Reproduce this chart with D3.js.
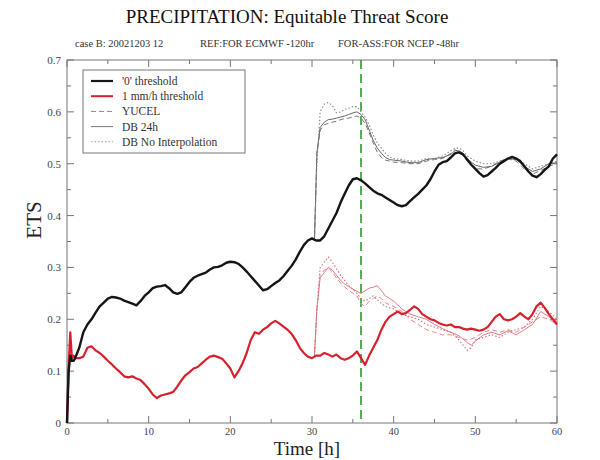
<!DOCTYPE html>
<html>
<head>
<meta charset="utf-8">
<script src="https://cdn.jsdelivr.net/npm/d3@7"></script>
<style>
  body { margin: 0; background: #fff; }
  text { font-family: "Liberation Serif", "DejaVu Serif", serif; }
</style>
</head>
<body>
<svg width="600" height="460"></svg>
<script>
// time grid of the two main curves (hours)
const tMain = [0, 0.2, 0.4, 0.6, 0.8, 1, 1.5, 2, 2.5, 3, 3.5, 4, 4.5, 5, 5.5, 6, 6.5, 7, 7.5, 8, 8.5, 9, 9.5,
  10, 10.5, 11, 11.5, 12, 12.5, 13, 13.5, 14, 14.5, 15, 15.5, 16, 16.5, 17, 17.5, 18, 18.5, 19, 19.5,
  20, 20.5, 21, 21.5, 22, 22.5, 23, 23.5, 24, 24.5, 25, 25.5, 26, 26.5, 27, 27.5, 28, 28.5, 29, 29.5,
  30, 30.5, 31, 31.5, 32, 32.5, 33, 33.5, 34, 34.5, 35, 35.5, 36, 36.5, 37, 37.5, 38, 38.5, 39, 39.5,
  40, 40.5, 41, 41.5, 42, 42.5, 43, 43.5, 44, 44.5, 45, 45.5, 46, 46.5, 47, 47.5, 48, 48.5, 49, 49.5,
  50, 50.5, 51, 51.5, 52, 52.5, 53, 53.5, 54, 54.5, 55, 55.5, 56, 56.5, 57, 57.5, 58, 58.5, 59, 59.5, 60];

// '0' threshold
const zeroThr = [0, 0.1, 0.13, 0.12, 0.12, 0.125, 0.145, 0.175, 0.19, 0.2, 0.213, 0.225, 0.232, 0.24, 0.243, 0.242, 0.24, 0.236, 0.233, 0.23, 0.227, 0.235, 0.245,
  0.252, 0.26, 0.263, 0.264, 0.266, 0.26, 0.252, 0.249, 0.252, 0.262, 0.272, 0.28, 0.284, 0.287, 0.29, 0.296, 0.3, 0.301, 0.304, 0.309,
  0.311, 0.31, 0.307, 0.3, 0.292, 0.283, 0.274, 0.265, 0.256, 0.258, 0.264, 0.27, 0.275, 0.283, 0.293, 0.303, 0.315, 0.33, 0.343, 0.352,
  0.356, 0.352, 0.352, 0.36, 0.375, 0.39, 0.405, 0.425, 0.442, 0.458, 0.47, 0.472, 0.468, 0.462, 0.455, 0.448, 0.443, 0.44, 0.435, 0.43,
  0.425, 0.42, 0.418, 0.42, 0.428, 0.435, 0.442, 0.45, 0.458, 0.47, 0.485, 0.498, 0.503, 0.505, 0.512, 0.52, 0.522, 0.518, 0.508, 0.498,
  0.49, 0.482, 0.475, 0.478, 0.485, 0.492, 0.5, 0.505, 0.51, 0.513, 0.51, 0.505, 0.495, 0.485, 0.477, 0.474, 0.48, 0.488, 0.495, 0.51, 0.518];

// 1 mm/h threshold
const oneMm = [0, 0.11, 0.175, 0.125, 0.13, 0.125, 0.125, 0.128, 0.145, 0.148, 0.14, 0.135, 0.128, 0.12, 0.113, 0.105, 0.098, 0.09, 0.088, 0.09, 0.086, 0.083, 0.075,
  0.066, 0.055, 0.048, 0.053, 0.055, 0.057, 0.06, 0.07, 0.082, 0.092, 0.098, 0.105, 0.108, 0.115, 0.122, 0.128, 0.13, 0.127, 0.124, 0.115,
  0.105, 0.088, 0.1, 0.115, 0.135, 0.16, 0.175, 0.172, 0.18, 0.185, 0.192, 0.197, 0.192, 0.186, 0.18, 0.172, 0.16, 0.145, 0.135, 0.128,
  0.125, 0.13, 0.13, 0.135, 0.132, 0.128, 0.132, 0.125, 0.122, 0.125, 0.13, 0.138, 0.125, 0.112, 0.13, 0.145, 0.16, 0.18, 0.195, 0.205,
  0.21, 0.215, 0.21, 0.212, 0.218, 0.225, 0.22, 0.21, 0.205, 0.2, 0.198, 0.193, 0.19, 0.188, 0.19, 0.185, 0.185, 0.182, 0.18, 0.182,
  0.18, 0.178, 0.18, 0.185, 0.195, 0.205, 0.21, 0.2, 0.198, 0.2, 0.205, 0.212, 0.205, 0.2, 0.21, 0.225, 0.232, 0.222, 0.21, 0.2, 0.19];

// time grid of the three method curves (they follow the main curves before 30 h)
const tVar = [30, 30.3, 30.6, 31, 31.5, 32, 32.5, 33, 33.5, 34, 34.5, 35, 35.5, 36, 36.5, 37, 37.5, 38, 38.5, 39, 39.5,
  40, 41, 42, 43, 44, 45, 46, 47, 47.5, 48, 48.5, 49, 49.5, 50, 51, 52, 53, 54, 55, 56, 57, 58, 59, 60];

const yucelZero = [0.356, 0.352, 0.52, 0.565, 0.575, 0.578, 0.58, 0.582, 0.585, 0.587, 0.588, 0.59, 0.592, 0.588, 0.578, 0.56, 0.54, 0.522, 0.512, 0.507, 0.505,
  0.503, 0.502, 0.5, 0.5, 0.505, 0.508, 0.51, 0.52, 0.527, 0.523, 0.515, 0.505, 0.497, 0.49, 0.49, 0.495, 0.505, 0.51, 0.505, 0.49, 0.48, 0.487, 0.495, 0.5];
const db24Zero = [0.356, 0.352, 0.52, 0.57, 0.58, 0.585, 0.586, 0.588, 0.59, 0.592, 0.595, 0.598, 0.6, 0.595, 0.585, 0.565, 0.545, 0.53, 0.52, 0.512, 0.508,
  0.507, 0.505, 0.502, 0.502, 0.508, 0.51, 0.512, 0.518, 0.525, 0.525, 0.52, 0.51, 0.503, 0.497, 0.493, 0.495, 0.503, 0.51, 0.508, 0.495, 0.485, 0.49, 0.5, 0.502];
const dbNoZero = [0.356, 0.352, 0.5, 0.6, 0.615, 0.618, 0.612, 0.598, 0.6, 0.605, 0.607, 0.61, 0.61, 0.6, 0.59, 0.575, 0.555, 0.54, 0.53, 0.52, 0.513,
  0.51, 0.508, 0.505, 0.505, 0.51, 0.51, 0.515, 0.525, 0.53, 0.53, 0.525, 0.515, 0.51, 0.505, 0.5, 0.5, 0.505, 0.51, 0.51, 0.5, 0.49, 0.495, 0.5, 0.505];

const yucelOne = [0.125, 0.13, 0.22, 0.285, 0.295, 0.3, 0.29, 0.28, 0.27, 0.262, 0.256, 0.25, 0.245, 0.23, 0.225, 0.235, 0.24, 0.245, 0.24, 0.232, 0.228,
  0.225, 0.215, 0.2, 0.19, 0.18, 0.175, 0.17, 0.17, 0.168, 0.165, 0.162, 0.16, 0.162, 0.165, 0.175, 0.18, 0.175, 0.18, 0.175, 0.185, 0.195, 0.205, 0.2, 0.19];
const db24One = [0.125, 0.13, 0.22, 0.28, 0.29, 0.3, 0.295, 0.285, 0.275, 0.268, 0.263, 0.258, 0.254, 0.25, 0.255, 0.26, 0.262, 0.265, 0.255, 0.245, 0.24,
  0.235, 0.22, 0.21, 0.205, 0.2, 0.19, 0.182, 0.175, 0.172, 0.168, 0.162, 0.155, 0.15, 0.158, 0.17, 0.175, 0.17, 0.178, 0.17, 0.18, 0.19, 0.215, 0.205, 0.195];
const dbNoOne = [0.125, 0.13, 0.22, 0.3, 0.31, 0.32, 0.31, 0.298, 0.285, 0.275, 0.265, 0.258, 0.25, 0.24, 0.235, 0.24, 0.245, 0.238, 0.23, 0.225, 0.222,
  0.22, 0.21, 0.205, 0.2, 0.19, 0.185, 0.18, 0.175, 0.168, 0.16, 0.15, 0.14, 0.145, 0.16, 0.165, 0.17, 0.165, 0.175, 0.18, 0.185, 0.2, 0.225, 0.215, 0.2];

const xTicks = [0, 10, 20, 30, 40, 50, 60];
const yTicks = [0, 0.1, 0.2, 0.3, 0.4, 0.5, 0.6, 0.7];
const legendLabels = ["'0' threshold", "1 mm/h threshold", "YUCEL", "DB 24h", "DB No Interpolation"];
const markTime = 36;

const svg = d3.select("svg");
const pL = 67, pR = 557, pT = 60, pB = 423;

const x = d3.scaleLinear().domain([0, 60]).range([pL, pR]);
const y = d3.scaleLinear().domain([0, 0.7]).range([pB, pT]);

const axisColor = "#777";
const labelColor = "#444";

// frame
svg.append("rect")
  .attr("x", pL).attr("y", pT)
  .attr("width", pR - pL).attr("height", pB - pT)
  .attr("fill", "none").attr("stroke", axisColor).attr("stroke-width", 1);

// inward ticks on all four sides
const xMinor = d3.range(0, 61, 5);
const yMinor = d3.range(0, 0.701, 0.05);

function tickLen(major) { return major ? 7 : 4; }

xMinor.forEach(t => {
  const major = t % 10 === 0;
  svg.append("line").attr("x1", x(t)).attr("x2", x(t)).attr("y1", pB).attr("y2", pB - tickLen(major))
    .attr("stroke", axisColor);
  svg.append("line").attr("x1", x(t)).attr("x2", x(t)).attr("y1", pT).attr("y2", pT + tickLen(major))
    .attr("stroke", axisColor);
});
yMinor.forEach((v, i) => {
  const major = i % 2 === 0;
  svg.append("line").attr("x1", pL).attr("x2", pL + tickLen(major)).attr("y1", y(v)).attr("y2", y(v))
    .attr("stroke", axisColor);
  svg.append("line").attr("x1", pR).attr("x2", pR - tickLen(major)).attr("y1", y(v)).attr("y2", y(v))
    .attr("stroke", axisColor);
});

// tick labels
svg.selectAll(".xl").data(xTicks).join("text")
  .attr("x", d => x(d)).attr("y", pB + 12)
  .attr("text-anchor", "middle").attr("font-size", 10.5).attr("fill", labelColor)
  .text(d => d);
svg.selectAll(".yl").data(yTicks).join("text")
  .attr("x", pL - 6).attr("y", d => y(d) + 4)
  .attr("text-anchor", "end").attr("font-size", 11).attr("fill", labelColor)
  .text(d => d === 0 ? "0" : d3.format(".1f")(d));

// green marker line
svg.append("line")
  .attr("x1", x(markTime)).attr("x2", x(markTime)).attr("y1", pT).attr("y2", pB)
  .attr("stroke", "#2b9a2b").attr("stroke-width", 1.6).attr("stroke-dasharray", "9,5");

const line = d3.line().x(d => x(d[0])).y(d => y(d[1]));
const pairs = (ts, vs) => ts.map((t, i) => [t, vs[i]]);

const styles = {
  yucel: { dash: "5,3", width: 1 },
  db24: { dash: null, width: 1 },
  dbNo: { dash: "1.5,2", width: 1.1 }
};

const variants = [
  { v: yucelOne, s: styles.yucel, c: "#e8868c" },
  { v: db24One, s: styles.db24, c: "#e27c83" },
  { v: dbNoOne, s: styles.dbNo, c: "#d9707a" },
  { v: yucelZero, s: styles.yucel, c: "#777" },
  { v: db24Zero, s: styles.db24, c: "#666" },
  { v: dbNoZero, s: styles.dbNo, c: "#888" }
];

variants.forEach(d => {
  svg.append("path")
    .attr("d", line(pairs(tVar, d.v)))
    .attr("fill", "none").attr("stroke", d.c).attr("stroke-width", d.s.width)
    .attr("stroke-dasharray", d.s.dash);
});

svg.append("path")
  .attr("d", line(pairs(tMain, oneMm)))
  .attr("fill", "none").attr("stroke", "#d7202c").attr("stroke-width", 2.2)
  .attr("stroke-linejoin", "round");

svg.append("path")
  .attr("d", line(pairs(tMain, zeroThr)))
  .attr("fill", "none").attr("stroke", "#151515").attr("stroke-width", 2.4)
  .attr("stroke-linejoin", "round");

// legend
const lg = svg.append("g");
lg.append("rect").attr("x", 83).attr("y", 70).attr("width", 162).attr("height", 83)
  .attr("fill", "#fff").attr("stroke", axisColor);
const legendStyle = [
  { c: "#151515", w: 2.2, dash: null },
  { c: "#d7202c", w: 2, dash: null },
  { c: "#888", w: 1, dash: "5,3" },
  { c: "#777", w: 1, dash: null },
  { c: "#9aa4b0", w: 1.1, dash: "1.5,2" }
];
legendLabels.forEach((lab, i) => {
  const yy = 81 + i * 15.2;
  lg.append("line").attr("x1", 91).attr("x2", 113).attr("y1", yy).attr("y2", yy)
    .attr("stroke", legendStyle[i].c).attr("stroke-width", legendStyle[i].w)
    .attr("stroke-dasharray", legendStyle[i].dash);
  lg.append("text").attr("x", 122).attr("y", yy + 4)
    .attr("font-size", 11.5).attr("fill", "#333").text(lab);
});

// titles
svg.append("text").attr("x", 287).attr("y", 23).attr("text-anchor", "middle")
  .attr("font-size", 19).attr("fill", "#111").text("PRECIPITATION: Equitable Threat Score");
const sub = [["case B: 20021203 12", 75], ["REF:FOR ECMWF -120hr", 200], ["FOR-ASS:FOR NCEP -48hr", 338]];
sub.forEach(([s, xx]) => {
  svg.append("text").attr("x", xx).attr("y", 47).attr("font-size", 10.5).attr("fill", "#333").text(s);
});

svg.append("text").attr("transform", "translate(41,220) rotate(-90)")
  .attr("text-anchor", "middle").attr("font-size", 21).attr("fill", "#222").text("ETS");
svg.append("text").attr("x", 307).attr("y", 455).attr("text-anchor", "middle")
  .attr("font-size", 19).attr("fill", "#222").text("Time [h]");
</script>
</body>
</html>
